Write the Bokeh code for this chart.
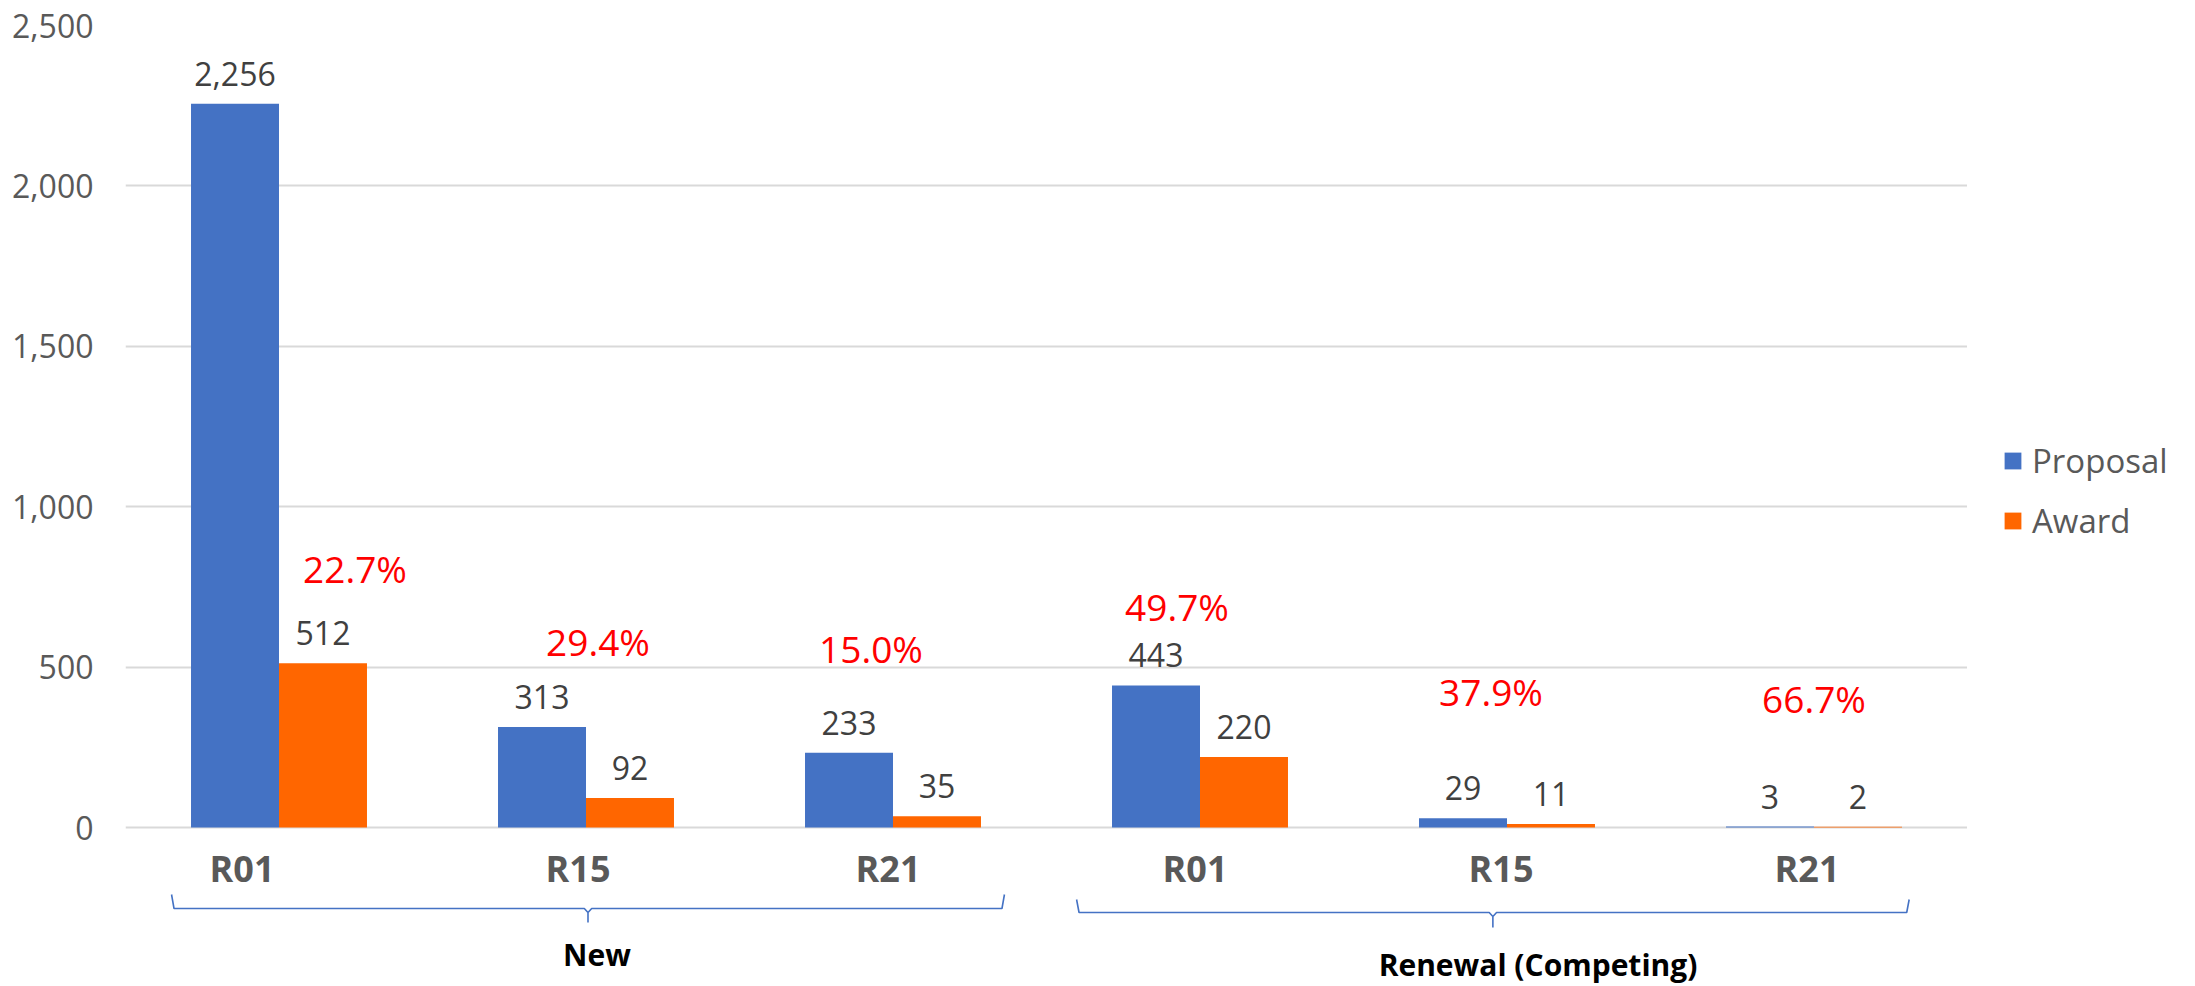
from bokeh.plotting import figure
from bokeh.layouts import row
from bokeh.models import (FactorRange, Range1d, ColumnDataSource, FixedTicker,
                          Legend, LegendItem, NumeralTickFormatter)
from bokeh.transform import dodge
from bokeh.core.properties import value
from bokeh.embed import file_html
from bokeh.resources import INLINE

# ---------------- data ----------------
groups = ["New", "New", "New",
          "Renewal (Competing)", "Renewal (Competing)", "Renewal (Competing)"]
grant_types = ["R01", "R15", "R21", "R01", "R15", "R21"]
proposal = [2256, 313, 233, 443, 29, 3]
award = [512, 92, 35, 220, 11, 2]
rate_labels = ["22.7%", "29.4%", "15.0%", "49.7%", "37.9%", "66.7%"]
group_names = ["New", "Renewal (Competing)"]
series_names = ["Proposal", "Award"]
y_ticks = [0, 500, 1000, 1500, 2000, 2500]

# ---------------- layout / style ----------------
W, H = 2195, 986
FRAME_L, FRAME_R, FRAME_T = 125, 1967, 25
ZERO_Y = 827
Y_MAX = 2500
px_per_unit = (ZERO_Y - FRAME_T) / Y_MAX
y_start = -(H - ZERO_Y) / px_per_unit

BLUE = "#4472C4"
ORANGE = "#FF6600"
FONT = value("Open Sans")
BAR_W = 0.2866

cat_label_dx = [-37, -8, -5, -5, -6, -7]
cat_label_y = 868
rate_dx = [76, 12, -22, -23, -16, 0]
rate_y = [568, 641, 648, 606, 691, 698]
group_label_dx = [11, 31]
group_label_y = [954, 964]
brace_ext = [(-0.35, 0.363), (-0.402, 0.31)]
brace_y = [(894, 908, 922), (899, 912, 927)]

factors = list(zip(groups, grant_types))

p = figure(width=FRAME_R, height=H,
           x_range=FactorRange(*factors, range_padding=0, group_padding=0,
                               factor_padding=0, subgroup_padding=0),
           y_range=Range1d(y_start, Y_MAX),
           x_axis_location=None,
           output_backend="svg", toolbar_location=None,
           min_border_left=FRAME_L, min_border_right=0,
           min_border_top=FRAME_T, min_border_bottom=0)
p.extra_y_ranges = {"px": Range1d(start=H, end=FRAME_T)}
p.outline_line_color = None
p.background_fill_color = "white"
p.border_fill_color = "white"
p.xgrid.visible = False

p.yaxis.ticker = FixedTicker(ticks=y_ticks)
p.ygrid.ticker = FixedTicker(ticks=y_ticks)
p.ygrid.grid_line_color = "#D9D9D9"
p.ygrid.grid_line_width = 2
p.yaxis.formatter = NumeralTickFormatter(format="0,0")
p.yaxis.axis_line_color = None
p.yaxis.major_tick_line_color = None
p.yaxis.minor_tick_line_color = None
p.yaxis.major_tick_out = 0
p.yaxis.major_label_standoff = 32
p.yaxis.major_label_text_font = "Open Sans"
p.yaxis.major_label_text_font_size = "32px"
p.yaxis.major_label_text_color = "#595959"

src = ColumnDataSource(dict(
    x=factors, cat=grant_types, proposal=proposal, award=award,
    proposal_txt=[f"{v:,}" for v in proposal],
    award_txt=[f"{v:,}" for v in award],
    rate=rate_labels, rate_dx=rate_dx, rate_y=rate_y, cat_dx=cat_label_dx,
))

p.vbar(x=dodge("x", -BAR_W / 2, range=p.x_range), top="proposal", width=BAR_W,
       source=src, fill_color=BLUE, line_color=None)
p.vbar(x=dodge("x", BAR_W / 2, range=p.x_range), top="award", width=BAR_W,
       source=src, fill_color=ORANGE, line_color=None)

# value labels
for col, off in (("proposal", -BAR_W / 2), ("award", BAR_W / 2)):
    p.text(x=dodge("x", off, range=p.x_range), y=col, text=col + "_txt", source=src,
           y_offset=-30, text_align="center", text_baseline="middle",
           text_font=FONT, text_font_size="32px", text_color="#404040")

# rate labels
p.text(x="x", y="rate_y", text="rate", x_offset="rate_dx", source=src,
       y_range_name="px", text_align="center", text_baseline="middle",
       text_font=FONT, text_font_size="37px", text_color="#FF0000")

# category labels
p.text(x="x", y=cat_label_y, text="cat", x_offset="cat_dx", source=src,
       y_range_name="px", text_align="center", text_baseline="middle",
       text_font=FONT, text_font_style="bold", text_font_size="36px",
       text_color="#595959")

# braces + group labels
xs, ys, gx = [], [], []
for gi, g in enumerate(group_names):
    idx = [i for i, gg in enumerate(groups) if gg == g]
    left = idx[0] + 0.5 + brace_ext[gi][0]
    right = idx[-1] + 0.5 + brace_ext[gi][1]
    c = (left + right) / 2
    top, hor, tip = brace_y[gi]
    h = 0.008
    xs.append([left, left + h, c - 0.012, c, c, c, c + 0.012, right - h, right])
    ys.append([top, hor, hor, hor + 4, tip, hor + 4, hor, hor, top])
    gx.append(factors[idx[len(idx) // 2]])
p.multi_line(xs=xs, ys=ys, y_range_name="px", line_color=BLUE, line_width=1.6)

p.text(x=gx, y=group_label_y, text=group_names, x_offset=group_label_dx,
       y_range_name="px", text_align="center", text_baseline="middle",
       text_font=FONT, text_font_style="bold", text_font_size="30px",
       text_color="#000000")

# ---------------- legend panel ----------------
lg = figure(width=W - FRAME_R, height=H, x_range=Range1d(0, 1), y_range=Range1d(0, 1),
            x_axis_location=None, y_axis_location=None,
            output_backend="svg", toolbar_location=None,
            min_border_left=0, min_border_right=0, min_border_top=0,
            min_border_bottom=0)
lg.outline_line_color = None
lg.xgrid.visible = False
lg.ygrid.visible = False
# legend swatch renderers (single zero-size bar kept outside the visible range)
swatch_src = ColumnDataSource(dict(x=[-5.0], top=[-5.0], bottom=[-5.0]))
lr1 = lg.vbar(x="x", top="top", bottom="bottom", width=0.1, source=swatch_src,
              fill_color=BLUE, line_color=None)
lr2 = lg.vbar(x="x", top="top", bottom="bottom", width=0.1, source=swatch_src,
              fill_color=ORANGE, line_color=None)

legend = Legend(items=[LegendItem(label=series_names[0], renderers=[lr1]),
                       LegendItem(label=series_names[1], renderers=[lr2])],
                location=(35, 441), padding=0, margin=0, spacing=10,
                glyph_width=21, glyph_height=21, label_height=50,
                label_standoff=9,
                label_text_font="Open Sans", label_text_font_size="33px",
                label_text_color="#595959", border_line_color=None,
                background_fill_alpha=0)
lg.add_layout(legend)

layout = row(p, lg, spacing=0)
open("out.html", "w").write(file_html(layout, INLINE))
